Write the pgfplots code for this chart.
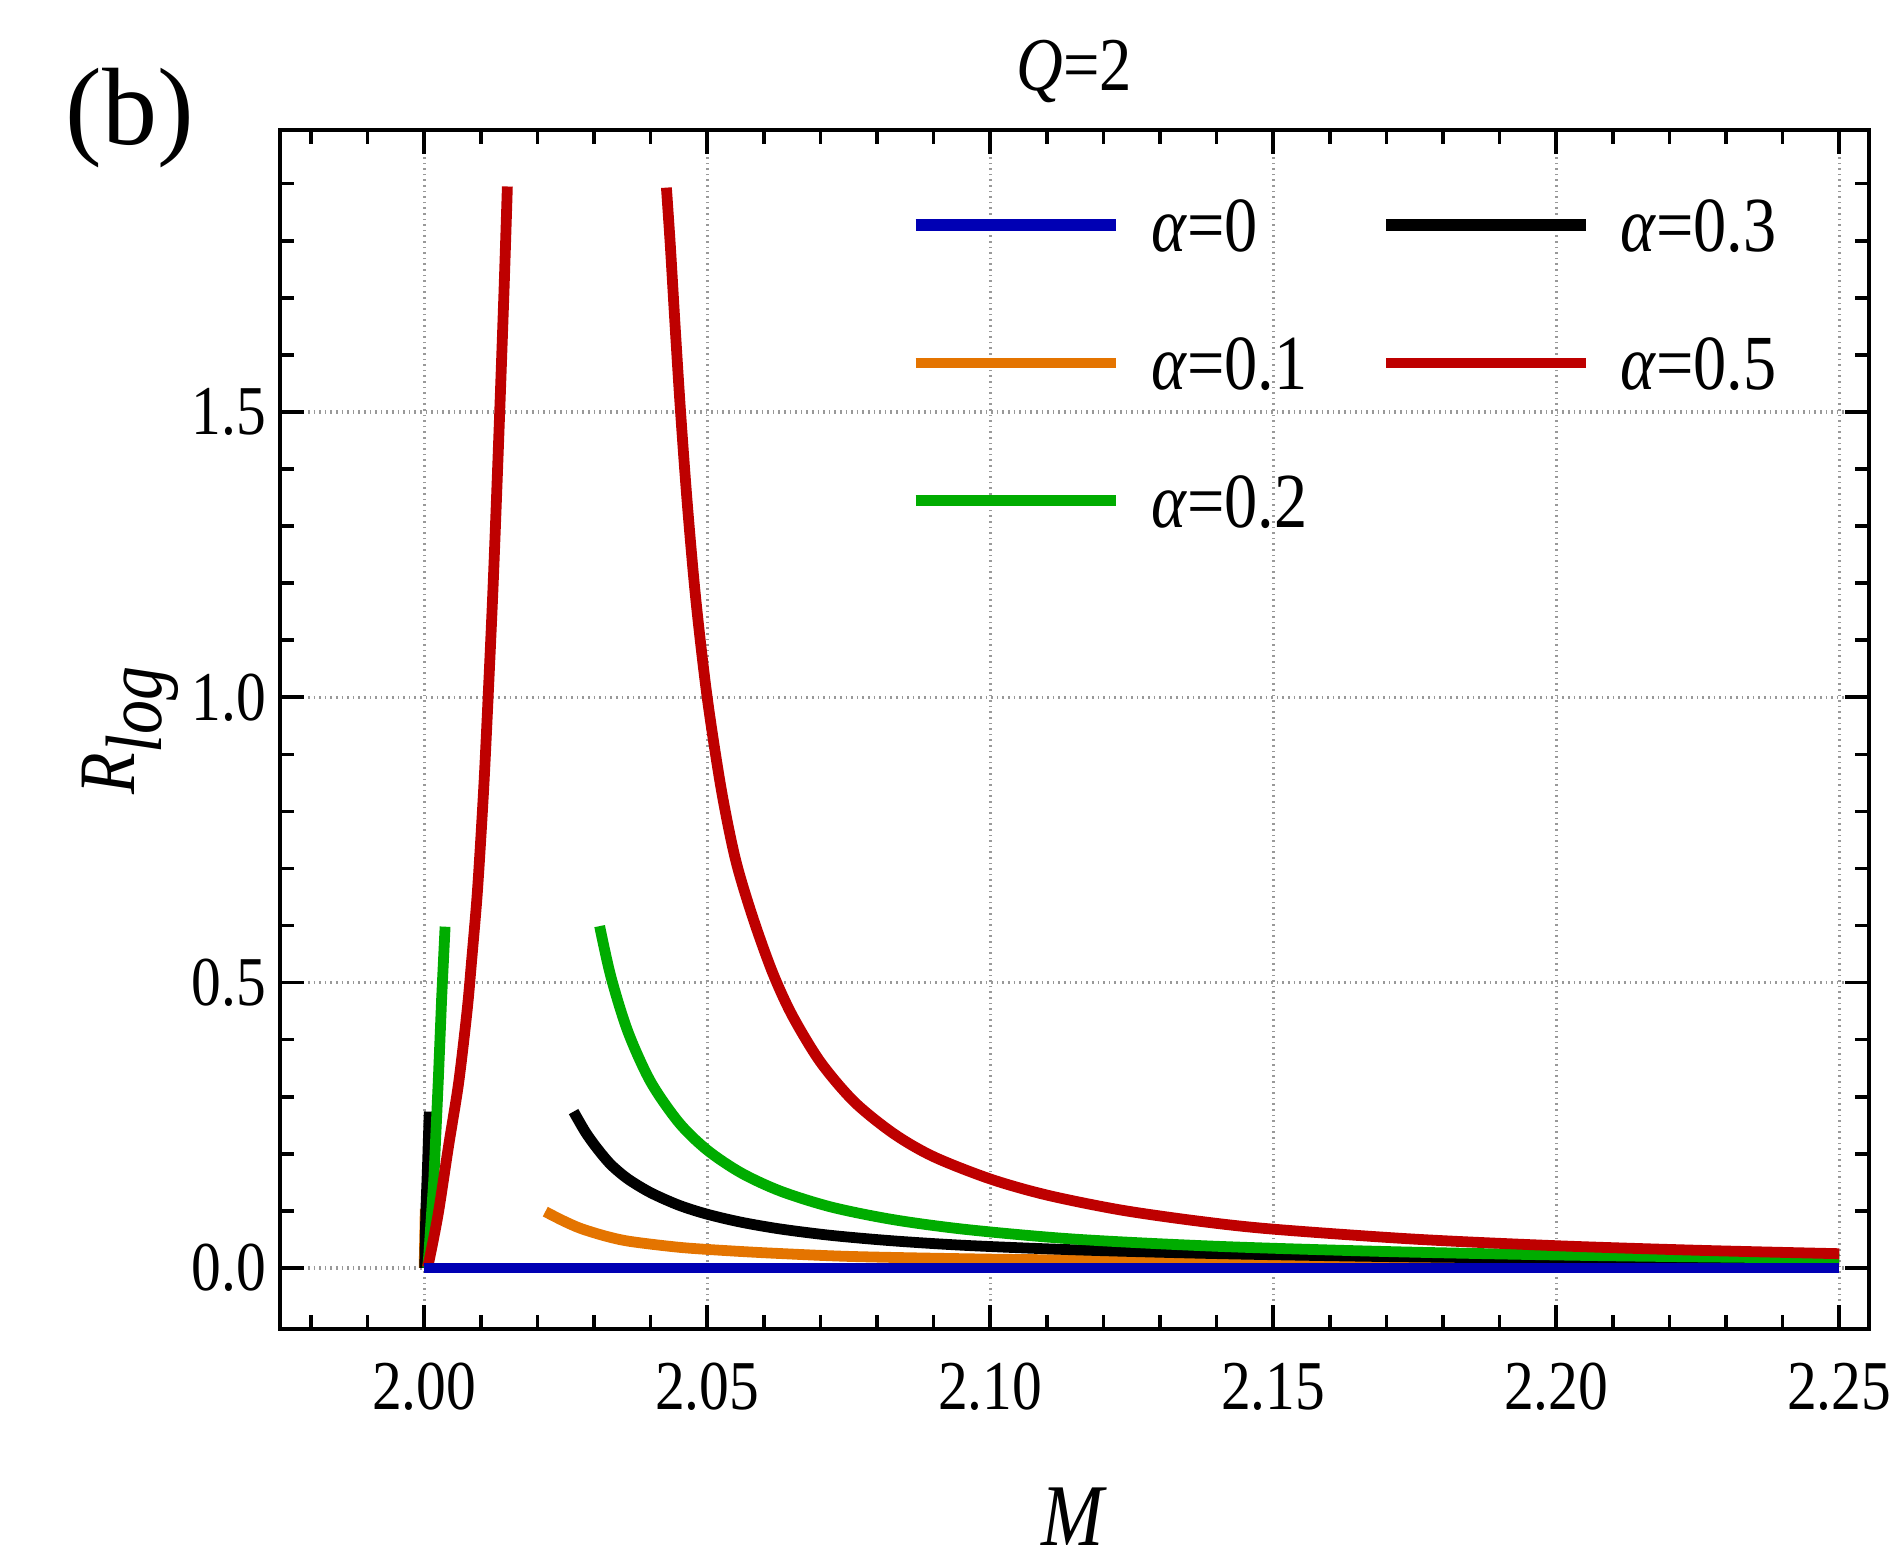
\documentclass[border=0pt]{standalone}
\usepackage{fontspec}
\setmainfont{Liberation Serif}[FakeStretch=0.85]
\newfontfamily\plainserif{Liberation Serif}
\usepackage{pgfplots}
\pgfplotsset{compat=1.18}
\definecolor{cblue}{RGB}{0,0,180}
\definecolor{corange}{RGB}{228,116,0}
\definecolor{cgreen}{RGB}{0,172,0}
\definecolor{cred}{RGB}{190,0,0}
\begin{document}
\begin{tikzpicture}
\path[use as bounding box] (-70pt,-58.25pt) rectangle (402.25pt,332.25pt);
\begin{axis}[
  scale only axis, width=397.25pt, height=299.75pt,
  at={(0pt,0pt)}, anchor=south west,
  clip mode=individual,
  xmin=1.97453, xmax=2.25526, ymin=-0.1069, ymax=1.994,
  xtick={2.00,2.05,2.10,2.15,2.20,2.25},
  minor xtick={1.98,1.99,2.01,2.02,2.03,2.04,2.06,2.07,2.08,2.09,2.11,2.12,2.13,2.14,2.16,2.17,2.18,2.19,2.21,2.22,2.23,2.24},
  ytick={0,0.5,1,1.5},
  minor ytick={0.1,0.2,0.3,0.4,0.6,0.7,0.8,0.9,1.1,1.2,1.3,1.4,1.6,1.7,1.8,1.9},
  tick align=inside, xtick pos=both, ytick pos=both,
  xticklabel pos=lower, yticklabel pos=left,
  major tick length=6pt, minor tick length=3.5pt,
  tick style={black, line width=0.9pt},
  axis line style={line width=0.9pt},
  grid=major, major grid style={densely dotted, gray!80, line width=0.8pt},
  /pgf/number format/assume math mode=true,
  x tick label style={/pgf/number format/.cd, fixed, fixed zerofill, precision=2, /tikz/.cd, font=\fontsize{17.5}{20}\selectfont, yshift=-5pt},
  y tick label style={/pgf/number format/.cd, fixed, fixed zerofill, precision=1, /tikz/.cd, font=\fontsize{17.5}{20}\selectfont},
  title={\textit{Q}=2},
  title style={font=\fontsize{19}{22}\selectfont, at={(0.5,1)}, anchor=base, yshift=3.75pt, inner sep=0pt},
  xlabel={\textit{M}},
  xlabel style={font=\fontsize{22}{26}\selectfont, at={(0.5,0)}, anchor=base, yshift=-54.25pt, inner sep=0pt},
  ylabel={\textit{R}$_{\textit{log}}$},
  ylabel style={font=\fontsize{20}{24}\selectfont, at={(axis description cs:-0.0914,0.5)}, anchor=base, rotate=0, inner sep=0pt},
  legend image code/.code={\draw[#1] (0pt,0pt) -- (50pt,0pt);},
  legend cell align=left,
  legend columns=2,
  legend style={at={(0.39585,0.94362)}, anchor=north west, draw=none, fill=none,
    inner sep=0pt, column sep=0pt, row sep=21.25pt,
    font=\fontsize{19.5}{22}\selectfont,
    nodes={inner sep=0pt, text height=13.25pt, text depth=0pt}},
  every axis plot/.append style={line join=round, line width=2.7pt},
]
% alpha = 0.1
\addplot[corange, forget plot] table {
2.0000 0.000
2.0001 0.050
2.0002 0.104
};
\addplot[corange, forget plot, smooth] table {
2.0214 0.0987
2.0245 0.0830
2.0276 0.0695
2.0320 0.0560
2.0364 0.0465
2.0453 0.0360
2.0541 0.0300
2.0625 0.0255
2.0760 0.0200
2.1000 0.0155
2.1250 0.0133
2.1500 0.0120
2.2000 0.0110
2.2500 0.0105
};
% alpha = 0.3
\addplot[black, forget plot] table {
2.0001 0.000
2.0003 0.100
2.0006 0.180
2.0009 0.274
};
\addplot[black, forget plot, smooth] table {
2.0264 0.274
2.0285 0.238
2.0306 0.209
2.0330 0.181
2.0360 0.156
2.0400 0.132
2.0450 0.110
2.0500 0.0942
2.0560 0.0802
2.0630 0.0682
2.0720 0.0570
2.0830 0.0474
2.0960 0.0394
2.1150 0.0318
2.1400 0.0252
2.1700 0.0200
2.2000 0.0170
2.2250 0.0156
2.2500 0.0146
};
% alpha = 0.2
\addplot[cgreen, forget plot] table {
2.0006 0.000
2.0008 0.020
2.0017 0.154
2.0025 0.329
2.0031 0.475
2.0037 0.598
};
\addplot[cgreen, forget plot, smooth] table {
2.0310 0.599
2.0330 0.510
2.0360 0.414
2.0400 0.3265
2.0450 0.2548
2.0500 0.2066
2.0560 0.1666
2.0630 0.1345
2.0720 0.1066
2.0830 0.0845
2.0960 0.0672
2.1150 0.0505
2.1400 0.0380
2.1700 0.0288
2.2000 0.0228
2.2250 0.0195
2.2500 0.0170
};
% alpha = 0.5
\addplot[cred, forget plot, smooth] table {
2.0005 0.000
2.0009 0.014
2.0025 0.096
2.0043 0.213
2.0061 0.325
2.0076 0.452
2.0084 0.540
2.0093 0.645
2.0099 0.735
2.0106 0.855
2.0113 1.000
2.0122 1.200
2.0132 1.460
2.0141 1.710
2.0147 1.895
};
\addplot[cred, forget plot, smooth] table {
2.0428 1.893
2.0435 1.790
2.0444 1.640
2.0453 1.500
2.0465 1.338
2.0480 1.171
2.0500 1.000
2.0525 0.838
2.0550 0.716
2.0580 0.616
2.0615 0.519
2.0650 0.443
2.0700 0.361
2.0760 0.291
2.0830 0.235
2.0900 0.195
2.1000 0.156
2.1100 0.1278
2.1230 0.1017
2.1370 0.0818
2.1500 0.0680
2.1750 0.0505
2.2000 0.0390
2.2250 0.0310
2.2500 0.0250
};
% alpha = 0
\addplot[cblue, forget plot] table {
2.00 0
2.25 0
};
\addlegendimage{cblue, line width=2.9pt}
\addlegendentry{\hspace*{7.5pt}\makebox[57.25pt][l]{\textit{α}=0}}
\addlegendimage{black, line width=3pt}
\addlegendentry{\hspace*{7pt}\textit{α}=0.3}
\addlegendimage{corange, line width=2.6pt}
\addlegendentry{\hspace*{7.5pt}\makebox[57.25pt][l]{\textit{α}=0.1}}
\addlegendimage{cred, line width=2.6pt}
\addlegendentry{\hspace*{7pt}\textit{α}=0.5}
\addlegendimage{cgreen, line width=2.8pt}
\addlegendentry{\hspace*{7.5pt}\makebox[57.25pt][l]{\textit{α}=0.2}}
\node[font=\plainserif\fontsize{27.5}{30}\selectfont, anchor=center, inner sep=0pt] at (axis description cs:-0.0945,1.0096) {(b)};
\end{axis}
\end{tikzpicture}
\end{document}
